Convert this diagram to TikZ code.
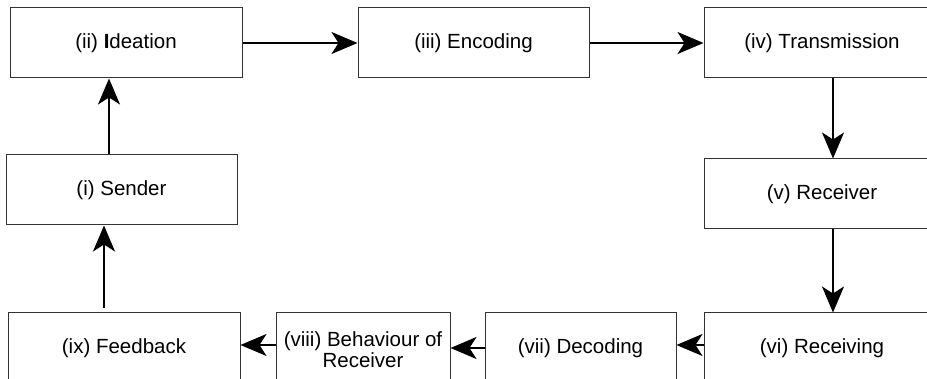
\documentclass[tikz,border=0pt]{standalone}
\usepackage{fontspec}
\setmainfont{Liberation Sans}
\usepackage{tikz}
\usetikzlibrary{arrows.meta, positioning}

\begin{document}
\begin{tikzpicture}[
        x=1pt, y=1pt,
        box/.style={rectangle, draw=black!80, line width=1pt, minimum width=232pt, minimum height=70pt, inner sep=2pt, align=center, fill=white, font=\fontsize{20.5pt}{20pt}\selectfont},
        wide/.style={box, minimum width=236pt},
        arrow/.style={-{Stealth[length=26pt, width=22pt, inset=7pt]}, line width=2pt, draw=black}
    ]
        \useasboundingbox (0,0) rectangle (927,-379);
        \clip (0,0) rectangle (927,-379);

        % Top row
        \node[box] (ideation) at (126,-43) {(ii) \textbf{I}deation};
        \node[box, right=115pt of ideation, minimum width=231pt] (encoding) {(iii) Encoding};
        \node[wide, right=114pt of encoding] (transmission) {(iv) Transmission};

        % Right column
        \node[wide, below=80pt of transmission] (receiver) {(v) Receiver};
        \node[wide, below=83pt of receiver] (receiving) {(vi) Receiving};

        % Bottom row
        \node[box, left=27pt of receiving, minimum width=191pt] (decoding) {(vii) Decoding};
        \node[box, left=34pt of decoding, minimum width=174pt] (behaviour) {\raisebox{-10pt}[0pt][0pt]{\begin{tabular}{@{}c@{}}(viii) Behaviour of\\Receiver\end{tabular}}};
        \node[box, left=35pt of behaviour] (feedback) {(ix) Feedback};

        % Left column
        \node[box, above=87pt of feedback, xshift=-2.5pt, minimum width=231pt] (sender) {(i) Sender};

        % Connections
        \draw[arrow] (ideation) -- (encoding);
        \draw[arrow] (encoding) -- (transmission);
        \draw[arrow] ([xshift=11pt]transmission.south) -- ([xshift=11pt]receiver.north);
        \draw[arrow] ([xshift=11pt]receiver.south) -- ([xshift=11pt]receiving.north);
        \draw[arrow] ([yshift=3pt]receiving.west) -- ([yshift=3pt]receiving.west -| decoding.east);
        \draw[arrow] (decoding) -- (behaviour);
        \draw[arrow] ([yshift=3pt]behaviour.west) -- ([yshift=3pt]behaviour.west -| feedback.east);
        \draw[arrow] ([xshift=-20pt, yshift=4pt]feedback.north) -- ([xshift=-20pt]feedback.north |- sender.south);
        \draw[arrow] ([xshift=-12.5pt]sender.north) -- ([xshift=-12.5pt]sender.north |- ideation.south);

    \end{tikzpicture}
\end{document}
